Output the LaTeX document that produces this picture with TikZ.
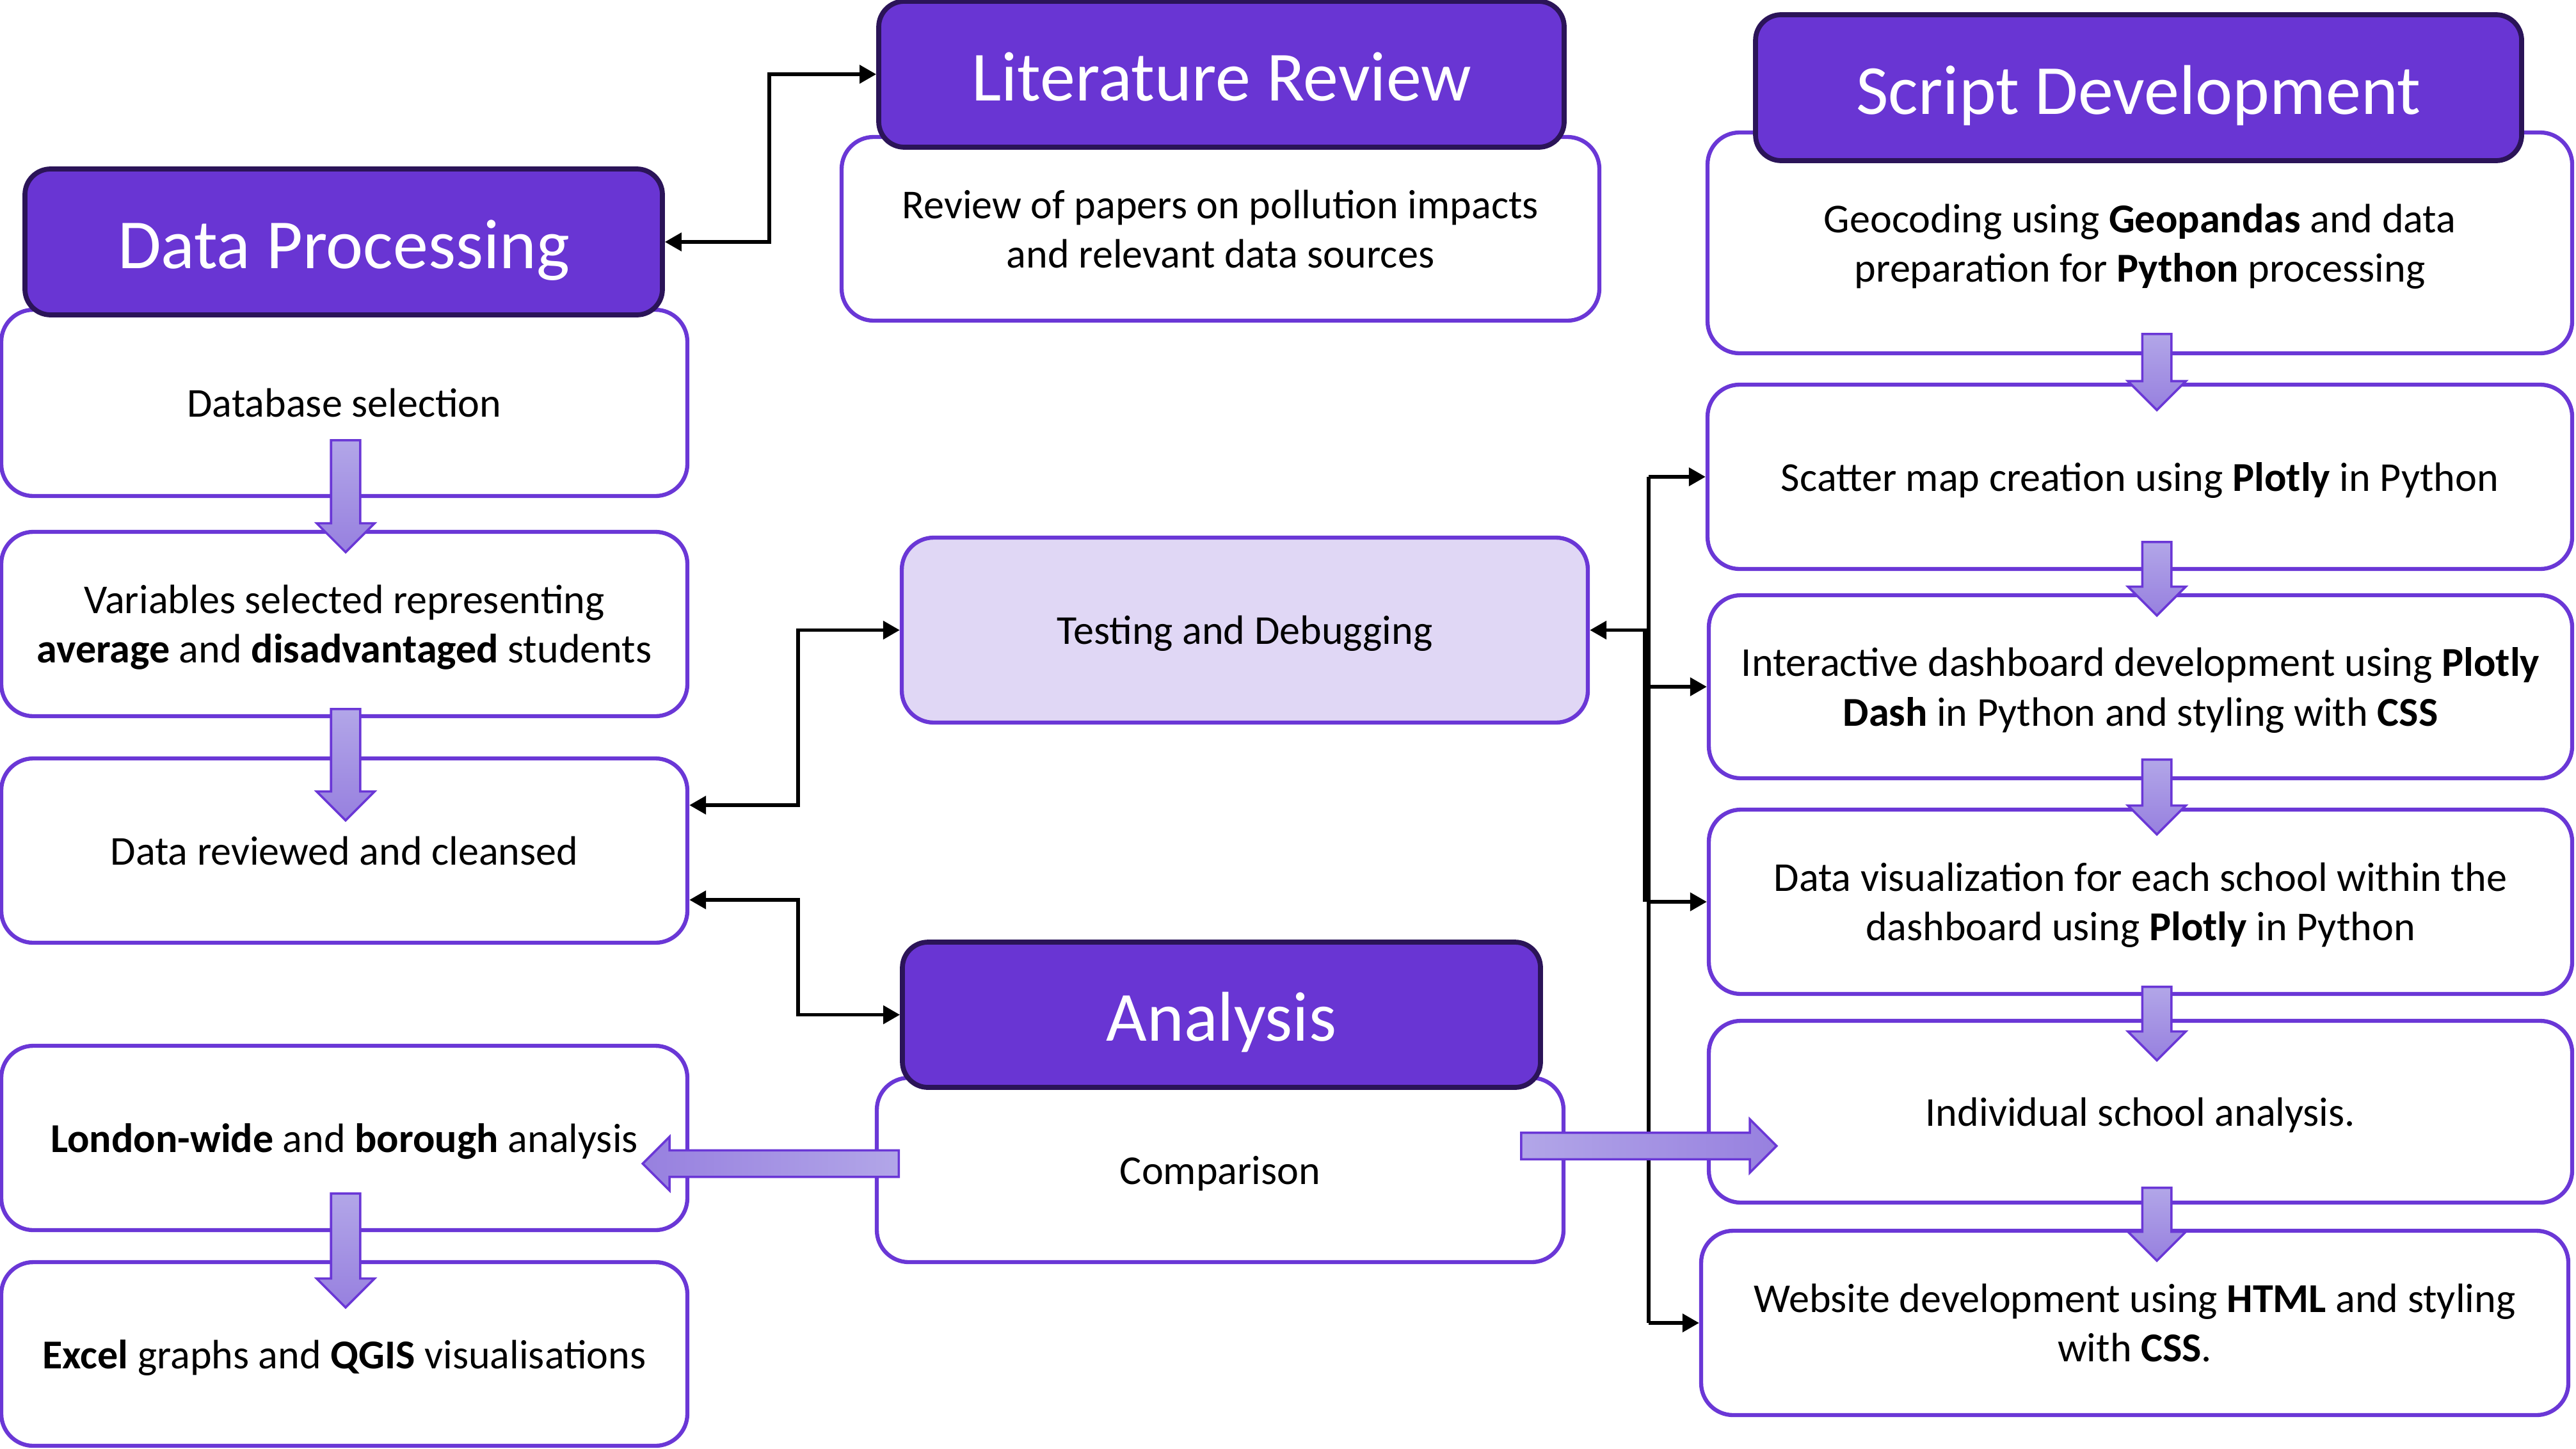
\documentclass[tikz,border=0pt]{standalone}
\usepackage{fontspec}
\setmainfont{Carlito}
\usepackage{tikz}
\usetikzlibrary{arrows.meta, positioning, shapes.arrows}
\definecolor{FlowHead}{HTML}{6935D3}
\definecolor{FlowHeadEdge}{HTML}{2B1458}
\definecolor{FlowEdge}{HTML}{6A37D6}
\definecolor{FlowTest}{HTML}{E0D7F5}
\definecolor{FlowArrowA}{HTML}{B2A6E8}
\definecolor{FlowArrowB}{HTML}{9780DF}

\begin{document}
\begin{tikzpicture}[
  textbox/.style={draw=FlowEdge, line width=1.8pt, rounded corners=0.5cm, fill=white, align=center, font=\fontsize{18.25}{22}\selectfont, inner sep=0pt, text depth=0pt},
  headbox/.style={draw=FlowHeadEdge, line width=2.2pt, rounded corners=0.4cm, fill=FlowHead, text=white, font=\fontsize{31.3}{36}\selectfont, inner sep=0pt, text height=0.82cm, text depth=0pt},
  link/.style={line width=1.6pt, {Triangle[length=2.6mm,width=2.8mm]}-{Triangle[length=2.6mm,width=2.8mm]}},
  feed/.style={line width=1.6pt, -{Triangle[length=2.6mm,width=2.8mm]}},
  downblk/.style={single arrow, shape border rotate=270, anchor=tail, draw=FlowEdge, line width=1pt, top color=FlowArrowA, bottom color=FlowArrowB, inner sep=0.21cm, single arrow head extend=0.225cm},
  sideblk/.style={single arrow, anchor=tail, draw=FlowEdge, line width=1pt, inner sep=0.19cm, single arrow head extend=0.21cm}
]
  \useasboundingbox (0,0) rectangle (40.25,-22.63);

  % data processing column
  \node[textbox, minimum width=10.72cm, minimum height=2.91cm] (DB) at (5.38,-6.295) {Database selection};
  \node[textbox, minimum width=10.72cm, minimum height=2.88cm] (VS) at (5.38,-9.75) {Variables selected representing\\\textbf{average} and \textbf{disadvantaged} students};
  \node[textbox, minimum width=10.72cm, minimum height=2.88cm] (DR) at (5.38,-13.29) {Data reviewed and cleansed};
  \node[textbox, minimum width=10.72cm, minimum height=2.88cm] (LW) at (5.38,-17.78) {\textbf{London-wide} and \textbf{borough} analysis};
  \node[textbox, minimum width=10.72cm, minimum height=2.87cm] (EG) at (5.38,-21.155) {\textbf{Excel} graphs and \textbf{QGIS} visualisations};

  % middle column
  \node[textbox, minimum width=11.84cm, minimum height=2.87cm] (RP) at (19.07,-3.575) {Review of papers on pollution impacts\\and relevant data sources};
  \node[textbox, fill=FlowTest, minimum width=10.72cm, minimum height=2.89cm] (TD) at (19.45,-9.845) {Testing and Debugging};
  \node[textbox, minimum width=10.73cm, minimum height=2.88cm] (Cmp) at (19.065,-18.28) {Comparison};

  % script development column
  \node[textbox, minimum width=13.51cm, minimum height=3.45cm] (GC) at (33.435,-3.795) {Geocoding using \textbf{Geopandas} and data\\preparation for \textbf{Python} processing};
  \node[textbox, minimum width=13.51cm, minimum height=2.88cm] (SM) at (33.435,-7.45) {Scatter map creation using \textbf{Plotly} in Python};
  \node[textbox, minimum width=13.49cm, minimum height=2.86cm] (ID) at (33.445,-10.73) {Interactive dashboard development using \textbf{Plotly}\\\textbf{Dash} in Python and styling with \textbf{CSS}};
  \node[textbox, minimum width=13.49cm, minimum height=2.88cm] (DV) at (33.445,-14.09) {Data visualization for each school within the\\dashboard using \textbf{Plotly} in Python};
  \node[textbox, minimum width=13.49cm, minimum height=2.84cm] (IS) at (33.445,-17.37) {Individual school analysis.};
  \node[textbox, minimum width=13.55cm, minimum height=2.88cm] (WD) at (33.355,-20.67) {Website development using \textbf{HTML} and styling\\with \textbf{CSS}.};

  % headers sit over the tops of the boxes
  \node[headbox, minimum width=9.96cm, minimum height=2.28cm] (DP) at (5.37,-3.78) {Data Processing};
  \node[headbox, minimum width=10.71cm, minimum height=2.28cm] (LR) at (19.085,-1.16) {Literature Review};
  \node[headbox, minimum width=11.97cm, minimum height=2.28cm] (SD) at (33.415,-1.37) {Script Development};
  \node[headbox, minimum width=9.97cm, minimum height=2.27cm] (An) at (19.085,-15.855) {Analysis};

  % black links
  \draw[link] (DP.east) -- ++(1.63,0) |- (LR.west);
  \draw[link] ([yshift=7.1mm]DR.east) -- ++(1.7,0) |- (TD.west);
  \draw[link] ([yshift=-7.7mm]DR.east) -- ++(1.7,0) |- (An.west);

  \coordinate (Bus) at ([xshift=9.2mm]TD.east);
  \draw[feed] (Bus) -- (TD.east);
  \draw[line width=1.6pt] (Bus |- SM.west) -- (Bus |- WD.west);
  \draw[line width=1.6pt] ([xshift=-0.6mm]Bus) -- ([xshift=-0.6mm]Bus |- DV.west);
  \foreach \n in {SM, ID, DV, WD}
    \draw[feed] (Bus |- \n.west) -- (\n.west);

  % block arrows, drawn last so they lie over the borders
  \node[downblk, minimum height=1.75cm] (A1) at (5.40,-6.86) {};
  \node[downblk, minimum height=1.74cm] (A2) at (5.40,-11.06) {};
  \node[downblk, minimum height=1.78cm] (A3) at (5.40,-18.63) {};
  \node[downblk, minimum height=1.19cm] (A4) at (33.70,-5.20) {};
  \node[downblk, minimum height=1.15cm] (A5) at (33.70,-8.45) {};
  \node[downblk, minimum height=1.17cm] (A6) at (33.70,-11.85) {};
  \node[downblk, minimum height=1.15cm] (A7) at (33.70,-15.40) {};
  \node[downblk, minimum height=1.14cm] (A8) at (33.70,-18.54) {};

  \node[sideblk, shape border rotate=180, minimum height=4.0cm, left color=FlowArrowB, right color=FlowArrowA] (AL) at (14.06,-18.18) {};
  \node[sideblk, minimum height=3.99cm, left color=FlowArrowA, right color=FlowArrowB] (AR) at (23.75,-17.905) {};
\end{tikzpicture}
\end{document}
